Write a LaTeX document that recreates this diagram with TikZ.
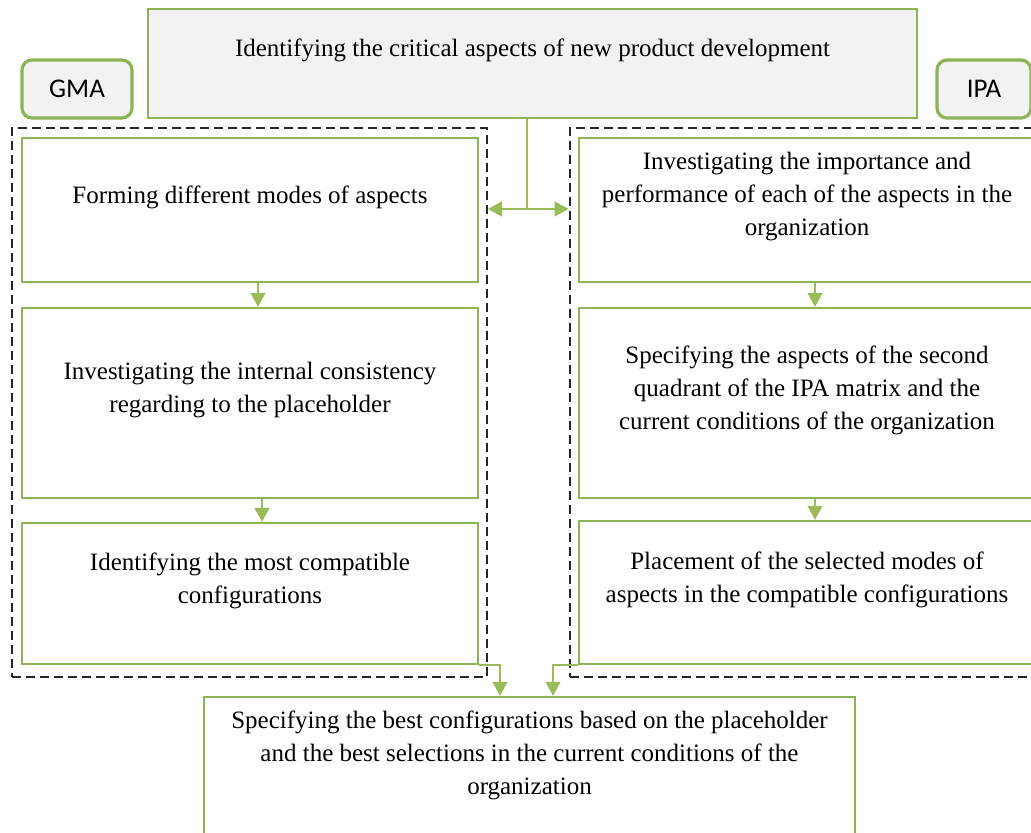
\documentclass[tikz,border=0pt]{standalone}
\usepackage{fontspec}
\setmainfont{Liberation Serif}
\newfontfamily\calibri{Carlito}
\usetikzlibrary{arrows.meta}
\definecolor{gbord}{RGB}{140,180,85}
\definecolor{garr}{RGB}{155,187,89}
\definecolor{gfill}{RGB}{242,242,242}

\begin{document}
\begin{tikzpicture}[x=0.5pt,y=-0.5pt]
\tikzset{box/.style={draw=gbord,line width=1.2pt,minimum width=228pt},
  txt/.style={align=center,font=\fontsize{12.5}{16.5}\selectfont,yshift=6.5pt},
  tag/.style={draw=gbord,fill=gfill,line width=1.6pt,rounded corners=5pt,minimum height=29pt,font=\calibri\fontsize{13.5}{15}\selectfont},
  dashframe/.style={draw=black!85,line width=1pt,dash pattern=on 4.5pt off 2.5pt,minimum width=237.5pt,minimum height=274.5pt},
  arr/.style={draw=garr,line width=0.8pt,-{Triangle[length=7pt,width=7.5pt]}}}
\useasboundingbox (0,0) rectangle (1031,833);

\node[box,fill=gfill,line width=1.3pt,minimum width=384.5pt,minimum height=54.5pt,
  label={[txt]center:Identifying the critical aspects of new product development}] (top) at (532.5,63.5) {};
\node[tag,minimum width=55pt] (gma) at (77,89) {GMA};
\node[tag,minimum width=47pt] (ipa) at (984,89) {IPA};

\node[dashframe] (gmaf) at (249.5,402.5) {};
\node[dashframe] (ipaf) at (807,402.5) {};

% GMA side
\node[box,minimum height=72pt,label={[txt]center:Forming different modes of aspects}] (g1) at (250,210) {};
\node[box,minimum height=95pt,label={[txt]center:{Investigating the internal consistency\\regarding to the placeholder}}] (g2) at (250,403) {};
\node[box,minimum height=70.5pt,label={[txt]center:{Identifying the most compatible\\configurations}}] (g3) at (250,593.5) {};

% IPA side
\node[box,minimum height=72pt,label={[txt]center:{Investigating the importance and\\performance of each of the aspects in the\\organization}}] (i1) at (807,210) {};
\node[box,minimum height=95pt,label={[txt]center:{Specifying the aspects of the second\\quadrant of the IPA matrix and the\\current conditions of the organization}}] (i2) at (807,403) {};
\node[box,minimum height=71.5pt,label={[txt]center:{Placement of the selected modes of\\aspects in the compatible configurations}}] (i3) at (807,592.5) {};

\node[box,minimum width=325.5pt,minimum height=71.5pt,label={[txt]center:{Specifying the best configurations based on the placeholder\\and the best selections in the current conditions of the\\organization}}] (res) at (529.5,768.5) {};

\coordinate (mid) at (527,209);
\draw[draw=garr,line width=0.8pt] ([xshift=-2.75pt]top.south) -- (mid);
\draw[arr] (mid) -- (gmaf.east |- mid);
\draw[arr] (mid) -- (ipaf.west |- mid);

\draw[arr] ([xshift=4pt]g1.south) -- ([xshift=4pt]g2.north);
\draw[arr] ([xshift=6pt]g2.south) -- ([xshift=6pt]g3.north);
\draw[arr] ([xshift=4pt]i1.south) -- ([xshift=4pt]i2.north);
\draw[arr] ([xshift=4pt]i2.south) -- ([xshift=4pt]i3.north);
\draw[arr] (g3.south east) -| ([xshift=-14.75pt]res.north);
\draw[arr] (i3.south west) -| ([xshift=11.75pt]res.north);
\end{tikzpicture}
\end{document}
